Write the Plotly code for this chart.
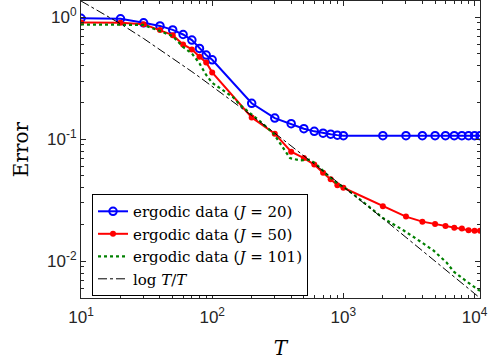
import numpy as np
import plotly.graph_objects as go

# ---- data ----
T_grid = [10, 20, 30, 40, 50, 60, 70, 80, 90, 100,
          200, 300, 400, 500, 600, 700, 800, 900, 1000,
          2000, 3000, 4000, 5000, 6000, 7000, 8000, 9000, 10000, 11000]

err_J20 = [0.98, 0.97, 0.90, 0.849, 0.787, 0.722, 0.65, 0.555, 0.49, 0.448,
           0.197, 0.149, 0.134, 0.122, 0.116, 0.112, 0.110, 0.108, 0.107,
           0.107, 0.107, 0.107, 0.107, 0.107, 0.107, 0.107, 0.107, 0.107, 0.107]

err_J50 = [0.905, 0.90, 0.877, 0.785, 0.713, 0.598, 0.545, 0.474, 0.426, 0.353,
           0.151, 0.111, 0.079, 0.070, 0.062, 0.053, 0.047, 0.042, 0.040,
           0.0282, 0.0232, 0.0211, 0.0202, 0.0194, 0.0188, 0.0185, 0.0179, 0.0178, 0.0178]

T_J101 = [10, 20, 30, 40, 50, 60, 70, 80, 90, 100, 145, 163, 232, 292, 348, 392,
          467, 557, 625, 748, 890, 1060, 1500, 2000, 2400, 2850, 3860, 4880,
          6140, 6950, 8900, 11000]
err_J101 = [0.872, 0.872, 0.865, 0.77, 0.70, 0.57, 0.505, 0.418, 0.336, 0.29, 0.22,
            0.191, 0.14, 0.112, 0.085, 0.070, 0.067, 0.068, 0.062, 0.0513, 0.0437,
            0.039, 0.0291, 0.0226, 0.0201, 0.0180, 0.0145, 0.0122, 0.0097, 0.0082,
            0.0067, 0.0057]

ref_const = 5.9  # scale of the log T / T reference line
ref_line = [ref_const * np.log(t) / t for t in T_grid]

x_major = [10, 100, 1000, 10000]
x_major_text = ["10<sup>1</sup>", "10<sup>2</sup>", "10<sup>3</sup>", "10<sup>4</sup>"]
y_major = [0.01, 0.1, 1]
y_major_text = ["10<sup>-2</sup>", "10<sup>-1</sup>", "10<sup>0</sup>"]

x_minor = [m * d for d in (10, 100, 1000) for m in range(2, 10)]
y_minor = [m * d for d in (0.001, 0.01, 0.1, 1) for m in range(2, 10)]

legend_names = [
    "ergodic data (<i>J</i> = 20)",
    "ergodic data (<i>J</i> = 50)",
    "ergodic data (<i>J</i> = 101)",
    "log <i>T</i>/<i>T</i>",
]

fig = go.Figure()
fig.add_trace(go.Scatter(x=T_grid, y=err_J20, mode="lines+markers", name=legend_names[0],
                         line=dict(color="rgb(0,0,255)", width=2),
                         marker=dict(symbol="circle-open", size=7.5, color="rgb(0,0,255)",
                                     line=dict(width=2))))
fig.add_trace(go.Scatter(x=T_grid, y=err_J50, mode="lines+markers", name=legend_names[1],
                         line=dict(color="rgb(255,0,0)", width=2),
                         marker=dict(symbol="circle", size=6, color="rgb(255,0,0)")))
fig.add_trace(go.Scatter(x=T_J101, y=err_J101, mode="lines", name=legend_names[2],
                         line=dict(color="rgb(0,128,0)", width=2.2, dash="dot")))
fig.add_trace(go.Scatter(x=T_grid, y=ref_line, mode="lines", name=legend_names[3],
                         line=dict(color="black", width=1, dash="dashdot")))

axis_col = "rgb(38,38,38)"
xr = [1, np.log10(T_grid[-1])]
yr = [np.log10(ref_line[-1]), np.log10(ref_line[0])]

fig.update_xaxes(type="log", range=xr, automargin=False, showline=True, linecolor=axis_col,
                 linewidth=1, mirror="allticks", ticks="inside", ticklen=5, tickcolor=axis_col,
                 tickvals=x_major, ticktext=x_major_text, showgrid=False, zeroline=False,
                 tickfont=dict(family="Liberation Sans", size=17, color=axis_col),
                 ticklabelstandoff=4,
                 minor=dict(tickvals=x_minor, ticks="inside", ticklen=3, tickcolor=axis_col,
                            showgrid=False),
                 title=dict(text="<i>T</i>", font=dict(family="DejaVu Serif", size=20,
                                                       color="black"), standoff=14))
fig.update_yaxes(type="log", range=yr, automargin=False, showline=True, linecolor=axis_col,
                 linewidth=1, mirror="allticks", ticks="inside", ticklen=5, tickcolor=axis_col,
                 tickvals=y_major, ticktext=y_major_text, showgrid=False, zeroline=False,
                 tickfont=dict(family="Liberation Sans", size=17, color=axis_col),
                 minor=dict(tickvals=y_minor, ticks="inside", ticklen=3, tickcolor=axis_col,
                            showgrid=False),
                 title=dict(text="Error", font=dict(family="DejaVu Serif", size=20,
                                                    color="black"), standoff=13))

fig.update_layout(
    width=488, height=361,
    margin=dict(l=81, r=8, t=1, b=63, autoexpand=False),
    paper_bgcolor="white", plot_bgcolor="white",
    showlegend=True,
    legend=dict(x=0.0276, y=0.35, xanchor="left", yanchor="top",
                bgcolor="white", bordercolor="black", borderwidth=1,
                font=dict(family="DejaVu Serif", size=15, color="black"),
                itemwidth=30, tracegroupgap=0),
)

fig.write_html("out.html", config={"displayModeBar": False},
               post_script="document.body.style.margin='0px';document.body.style.overflow='hidden';")
